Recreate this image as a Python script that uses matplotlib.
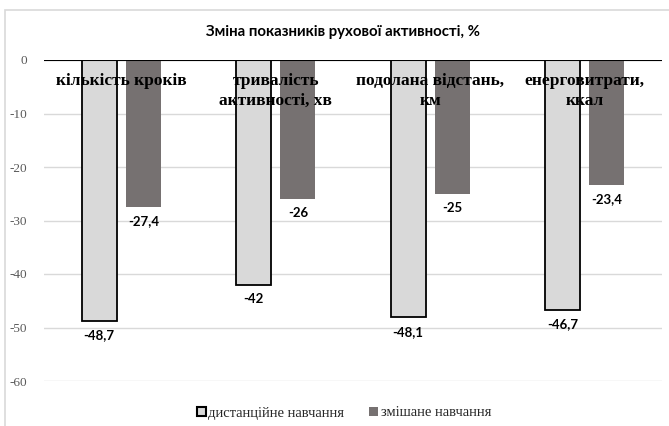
import numpy as np
import matplotlib.pyplot as plt
from matplotlib.patches import Rectangle, Patch

categories = ['кількість кроків', 'тривалість\nактивності, хв',
              'подолана відстань,\nкм', 'енерговитрати,\nккал']
distance = [-48.7, -42, -48.1, -46.7]
mixed = [-27.4, -26, -25, -23.4]
series_names = ['дистанційне навчання', 'змішане навчання']
yticks = [0, -10, -20, -30, -40, -50, -60]

light = '#d9d9d9'
dark = '#767171'

plt.rcParams['font.family'] = ['Liberation Serif', 'DejaVu Serif']

fig = plt.figure(figsize=(6.69, 4.26), dpi=100)
ax = fig.add_axes([44/669, 1-381/426, (662-44)/669, (381-60)/426])

# light gray frame like the Excel chart area
fig.add_artist(Rectangle((5/669, -0.1), 1.2, 1-10/426+0.1, transform=fig.transFigure,
                         facecolor='none', edgecolor='#d9d9d9', lw=1.2))

x = np.arange(len(categories))
w = 0.225
off = 0.143

ax.bar(x - off, distance, w, color=light, edgecolor='black', lw=1.3, zorder=3)
ax.bar(x + off, mixed, w, color=dark, edgecolor='none', zorder=3)

for xi, v in list(zip(x - off, distance)) + list(zip(x + off, mixed)):
  ax.annotate(f'{v:g}'.replace('.', ','), (xi, v), xytext=(0, -6), textcoords='offset points',
              ha='center', va='top', fontsize=9.5, fontweight='bold', family=['Lato'])

for xi, c in zip(x, categories):
  ax.text(xi, -2.4, c, ha='center', va='top', fontsize=12.5, fontweight='bold',
          linespacing=1.32, zorder=4)

ax.set_xlim(-0.5, len(categories) - 0.5)
ax.set_ylim(-60, 0)
ax.set_yticks(yticks)
ax.set_yticklabels([str(t) for t in yticks], fontsize=9.5, color='#595959')
ax.set_xticks([])
ax.tick_params(axis='y', length=0, pad=12)
ax.grid(axis='y', color='#d9d9d9', lw=1, zorder=0)
ax.axhline(0, color='black', lw=1.5, zorder=5)
for s in ax.spines.values():
  s.set_visible(False)

fig.text(343/669, 1-32/426, 'Зміна показників рухової активності, %', ha='center', va='center',
         fontsize=10.8, fontweight='bold', family=['Lato'])

handles = [Patch(facecolor=light, edgecolor='black', lw=1.5), Patch(facecolor=dark, edgecolor='none')]
fig.legend(handles, series_names, loc='center', bbox_to_anchor=(344/669, 1-413/426), ncol=2,
           frameon=False, prop={'size': 10.5},
           handlelength=0.6, handleheight=0.6, handletextpad=0.2, columnspacing=1.7,
           labelcolor='#262626')

fig.savefig('out.png', dpi=100)
